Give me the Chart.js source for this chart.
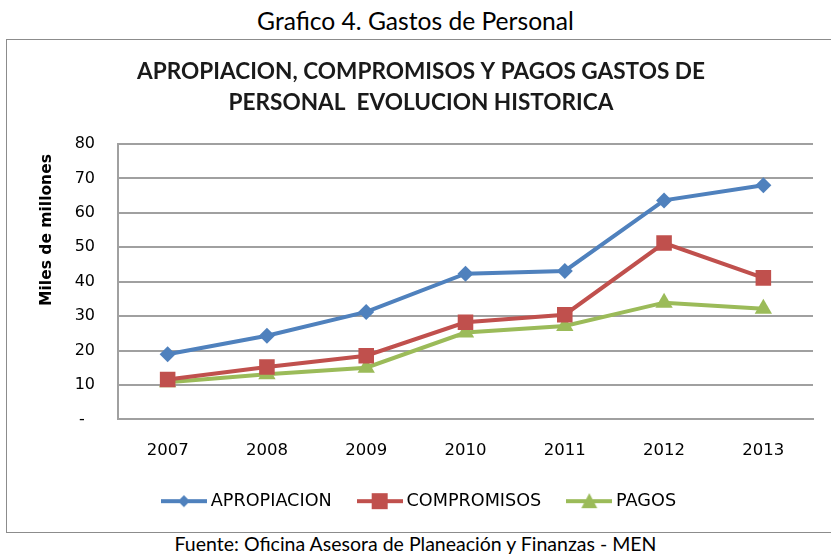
<!DOCTYPE html>
<html>
<head>
<meta charset="utf-8">
<script src="https://cdn.jsdelivr.net/npm/chart.js@4.4.0/dist/chart.umd.min.js"></script>
<style>
  html, body { margin: 0; padding: 0; background: #fff; }
  body { width: 831px; height: 555px; position: relative; overflow: hidden; }
  .caption, .footer {
    position: absolute; left: 0; width: 831px; line-height: normal; white-space: nowrap;
    text-align: center; font-family: Lato, "Open Sans", sans-serif; color: #000;
  }
  .box {
    position: absolute; left: 6px; top: 39px; width: 830px; height: 494px;
    border: 1px solid #8c8c8c; box-sizing: border-box;
  }
  .box canvas { position: absolute; left: 0; top: 0; }
</style>
</head>
<body>
<div class="caption" id="caption">Grafico 4. Gastos de Personal</div>
<div class="box"><canvas id="chart" width="823" height="492"></canvas></div>
<div class="footer" id="footer">Fuente: Oficina Asesora de Planeación y Finanzas - MEN</div>
<script>
// values, miles de millones
const years = ['2007', '2008', '2009', '2010', '2011', '2012', '2013'];
const apropiacion = [18.9, 24.3, 31.2, 42.3, 43.1, 63.6, 68.0];
const compromisos = [11.6, 15.2, 18.5, 28.2, 30.4, 51.2, 41.1];
const pagos = [10.8, 13.1, 15.0, 25.2, 27.1, 33.9, 32.1];
const yTicks = [0, 10, 20, 30, 40, 50, 60, 70, 80];

const BLUE = '#4F81BD';
const RED = '#C0504D';
const GREEN = '#9BBB59';

// font size that makes a text come out at a given width (the original is calibri/verdana)
const measurer = document.createElement('canvas').getContext('2d');
function fitSize(text, family, weight, width) {
    measurer.font = weight + ' 100px ' + family;
    return 100 * width / measurer.measureText(text).width;
}

// caption and footer: width and baseline as in the picture
function placeText(id, width, baseline) {
    const el = document.getElementById(id);
    const size = fitSize(el.textContent, 'Lato', 'normal', width);
    el.style.fontSize = size + 'px';
    el.style.top = (baseline - 0.987 * size) + 'px';
}
placeText('caption', 317, 30);
placeText('footer', 484, 551);

const yTitleText = 'Miles de millones';
const yTitleSize = fitSize(yTitleText, '"DejaVu Sans"', 'bold', 152);

// legend swatch: line with the marker in the middle, like excel does it
function swatch(color, style) {
    const c = document.createElement('canvas');
    c.width = 46; c.height = 18;
    const g = c.getContext('2d');
    g.strokeStyle = color; g.fillStyle = color; g.lineWidth = 4;
    g.beginPath(); g.moveTo(0, 9); g.lineTo(46, 9); g.stroke();
    g.beginPath();
    if (style === 'rectRot') {
        g.moveTo(23, 3); g.lineTo(29, 9); g.lineTo(23, 15); g.lineTo(17, 9);
    } else if (style === 'rect') {
        g.rect(15, 1, 16, 16);
    } else {
        g.moveTo(23, 1); g.lineTo(31, 16); g.lineTo(15, 16);
    }
    g.closePath(); g.fill();
    return c;
}

const yTitle = {
    id: 'yTitle',
    afterDraw(chart) {
        const ctx = chart.ctx;
        ctx.save();
        ctx.translate(40, 190);
        ctx.rotate(-Math.PI / 2);
        ctx.font = 'bold ' + yTitleSize + 'px "DejaVu Sans"';
        ctx.fillStyle = '#000';
        ctx.textAlign = 'center';
        ctx.textBaseline = 'middle';
        ctx.fillText(yTitleText, 0, 0);
        ctx.restore();
    }
};

function series(label, data, color, style, radius) {
    return {
        label: label,
        data: data,
        borderColor: color,
        backgroundColor: color,
        borderWidth: 4,
        pointStyle: style,
        pointRadius: radius,
        pointHoverRadius: radius,
        pointBorderWidth: 0,
        pointBackgroundColor: color,
        tension: 0,
        legendSwatch: swatch(color, style)
    };
}

new Chart(document.getElementById('chart'), {
    type: 'line',
    data: {
        labels: years,
        datasets: [
            series('APROPIACION', apropiacion, BLUE, 'rectRot', 8),
            series('COMPROMISOS', compromisos, RED, 'rect', 11),
            series('PAGOS', pagos, GREEN, 'triangle', 10)
        ]
    },
    options: {
        responsive: false,
        animation: false,
        events: [],
        layout: { padding: { left: 22, right: 17, top: 0, bottom: 12 } },
        plugins: {
            title: {
                display: true,
                text: ['APROPIACION, COMPROMISOS Y PAGOS GASTOS DE', 'PERSONAL  EVOLUCION HISTORICA'],
                color: '#1a1a1a',
                font: { family: 'Lato', size: 22.6, weight: 'bold', lineHeight: 1.37 },
                padding: { top: 16, bottom: 26 }
            },
            legend: {
                position: 'bottom',
                labels: {
                    color: '#000',
                    font: { family: '"DejaVu Sans"', size: fitSize('APROPIACION', '"DejaVu Sans"', 'normal', 121) },
                    usePointStyle: true,
                    pointStyleWidth: 36,
                    padding: 30,
                    generateLabels(chart) {
                        return chart.data.datasets.map((ds, i) => ({
                            text: ds.label,
                            pointStyle: ds.legendSwatch,
                            fillStyle: ds.borderColor,
                            strokeStyle: ds.borderColor,
                            lineWidth: 0,
                            hidden: false,
                            datasetIndex: i,
                            fontColor: '#000'
                        }));
                    }
                }
            },
            tooltip: { enabled: false }
        },
        scales: {
            x: {
                offset: true,
                grid: { display: false, drawTicks: false },
                border: { display: true, color: '#a0a0a0', width: 2 },
                ticks: { color: '#000', font: { family: '"DejaVu Sans"', size: 16.5 }, padding: 21, maxRotation: 0 },
                afterFit(scale) { scale.height = 43; }
            },
            y: {
                min: 0,
                max: 80,
                afterBuildTicks(scale) { scale.ticks = yTicks.map(v => ({ value: v })); },
                grid: { color: '#a0a0a0', lineWidth: 2, drawTicks: false },
                border: { display: true, color: '#a0a0a0', width: 2 },
                ticks: {
                    color: '#000',
                    font: { family: '"DejaVu Sans"', size: 16 },
                    padding: 23,
                    // excel accounting format: zero shows as a dash, set in from the right
                    callback: v => v === 0 ? '-  ' : v
                },
                afterFit(scale) { scale.width = 89; }
            }
        }
    },
    plugins: [yTitle]
});
</script>
</body>
</html>
